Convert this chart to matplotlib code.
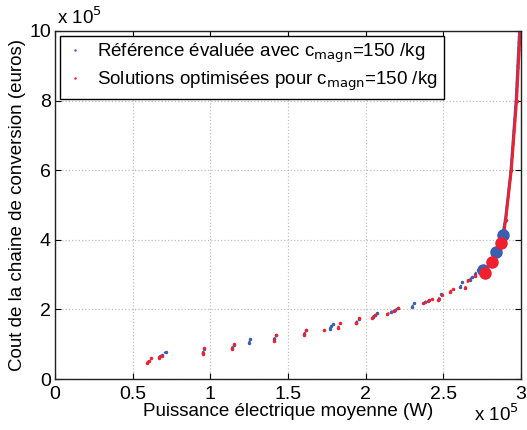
import matplotlib.pyplot as plt
from matplotlib.lines import Line2D

plt.rcParams['font.family'] = ['Liberation Sans', 'DejaVu Sans']

# segments of the Pareto cloud, units of 1e5 (x: W, y: euros)
ref_x = [[0.672, 0.690, 0.712], [0.952, 0.956], [1.140, 1.150], [1.250, 1.256],
         [1.412, 1.420], [1.605, 1.614], [1.768, 1.780, 1.792], [1.940, 1.956],
         [2.045, 2.060, 2.075], [2.160, 2.190, 2.210], [2.298, 2.312], [2.380, 2.405],
         [2.470, 2.488], [2.610, 2.622], [2.672, 2.683], [2.705, 2.725],
         [2.86, 2.875, 2.888, 2.900, 2.935, 2.968, 2.990]]
ref_y = [[0.64, 0.70, 0.77], [0.74, 0.86], [0.88, 0.99], [1.03, 1.14],
         [1.14, 1.25], [1.29, 1.40], [1.44, 1.51, 1.57], [1.62, 1.73],
         [1.78, 1.84, 1.90], [1.92, 1.98, 2.03], [2.07, 2.17], [2.20, 2.28],
         [2.29, 2.45], [2.64, 2.79], [2.85, 2.94], [3.02, 3.12],
         [3.75, 4.00, 4.30, 4.60, 6.00, 8.00, 10.0]]
ref_big_x = [2.754, 2.840, 2.883]
ref_big_y = [3.13, 3.66, 4.14]

opt_x = [[0.594, 0.605, 0.616], [0.670, 0.690], [0.951, 0.959], [1.138, 1.153],
         [1.410, 1.423], [1.603, 1.616], [1.732], [1.822, 1.835], [1.938, 1.959],
         [2.039, 2.060], [2.140, 2.180, 2.211], [2.372, 2.400, 2.426], [2.468, 2.490],
         [2.543, 2.565], [2.640, 2.661], [2.704, 2.737],
         [2.84, 2.870, 2.887, 2.902, 2.938, 2.972, 2.995]]
opt_y = [[0.47, 0.53, 0.59], [0.61, 0.67], [0.72, 0.88], [0.85, 1.00],
         [1.10, 1.26], [1.26, 1.40], [1.41], [1.47, 1.60], [1.60, 1.74],
         [1.74, 1.83], [1.87, 1.95, 2.03], [2.17, 2.23, 2.30], [2.27, 2.40],
         [2.51, 2.60], [2.61, 2.84], [2.96, 3.10],
         [3.55, 3.90, 4.14, 4.57, 6.00, 8.00, 10.0]]
opt_big_x = [2.769, 2.816, 2.870]
opt_big_y = [3.05, 3.37, 3.90]

blue = '#3a5fb0'
red = '#f0202e'

fig = plt.figure(figsize=(5.27, 4.3), dpi=100)
ax = fig.add_axes([0.1044, 0.1186, 0.8842, 0.8094])

for xs, ys in zip(ref_x, ref_y):
    ax.plot(xs, ys, '.:', color=blue, ms=3, lw=1.6)
for xs, ys in zip(opt_x, opt_y):
    ax.plot(xs, ys, '.:', color=red, ms=3, lw=1.6)
# steep tail drawn solid
ax.plot(ref_x[-1], ref_y[-1], '-', color=blue, lw=2)
ax.plot(opt_x[-1], opt_y[-1], '-', color=red, lw=2)
ax.plot(ref_big_x, ref_big_y, 'o', color=blue, ms=8)
ax.plot(opt_big_x, opt_big_y, 'o', color=red, ms=8)

ax.set_xlim(0, 3)
ax.set_ylim(0, 10)
ax.set_xticks([0, 0.5, 1, 1.5, 2, 2.5, 3])
ax.set_xticklabels(['0', '0.5', '1', '1.5', '2', '2.5', '3'])
ax.set_yticks([0, 2, 4, 6, 8, 10])
ax.tick_params(direction='in', top=True, right=True, labelsize=14, length=4)
ax.tick_params(axis='y', pad=3)
ax.tick_params(axis='x', pad=5)
ax.grid(True, linestyle=':', color='#c0c0c0', lw=0.9)
for s in ax.spines.values():
    s.set_linewidth(1.0)
    s.set_color('#222222')

ax.set_xlabel('Puissance électrique moyenne (W)', fontsize=13.5, labelpad=0)
ax.set_ylabel('Cout de la chaine de conversion (euros)', fontsize=13.5, labelpad=2)
fig.text(0.108, 0.945, r'x 10$^5$', fontsize=13.5)
fig.text(0.90, 0.02, r'x 10$^5$', fontsize=13.5)

handles = [Line2D([], [], marker='.', ls='', color=blue, ms=1.5),
           Line2D([], [], marker='.', ls='', color=red, ms=1.5)]
labels = [r'Référence évaluée avec c$_{\mathrm{magn}}$=150 /kg',
          r'Solutions optimisées pour c$_{\mathrm{magn}}$=150 /kg']
leg = ax.legend(handles, labels, loc='upper left', fontsize=13.5, fancybox=False,
                edgecolor='black', framealpha=1, borderaxespad=0.25,
                handlelength=1.0, handletextpad=0.7, labelspacing=0.25,
                borderpad=0.3)
leg.get_frame().set_linewidth(1.0)

fig.savefig('out.png', dpi=100)
